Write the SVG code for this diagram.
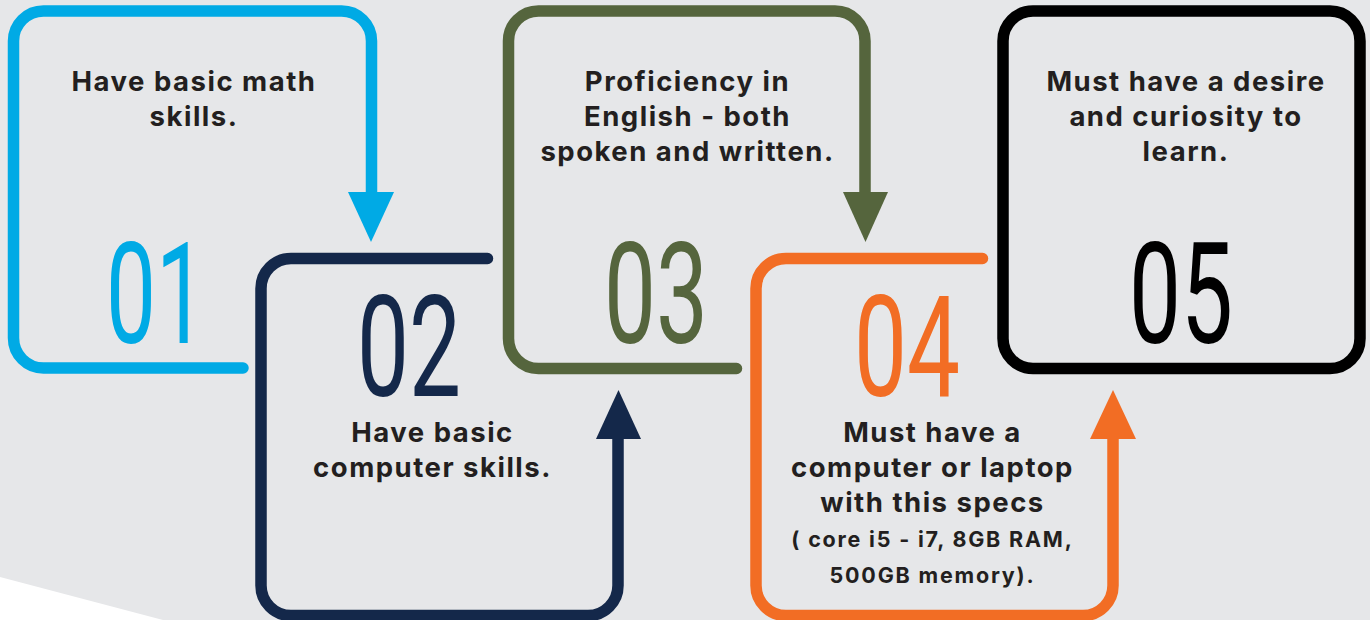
<svg xmlns="http://www.w3.org/2000/svg" width="1370" height="620" viewBox="0 0 1370 620">
<style>
.ln{fill:none;stroke-width:11.5;stroke-linecap:round;stroke-linejoin:round}
.t{font-family:Inter,"Open Sans","Liberation Sans",sans-serif;font-weight:700;font-size:27.5px;fill:#231F20;text-anchor:middle;letter-spacing:1.5px}
.s{font-size:21.5px;letter-spacing:1.8px}
.num{font-family:Roboto,"Liberation Sans",sans-serif;font-weight:400;font-size:141px;text-anchor:middle}
</style>
<rect width="1370" height="620" fill="#E6E7E9"/>
<polygon points="0,577 163,620 0,620" fill="#FFFFFF"/>
<g id="connectors">
<path class="ln" stroke="#00AAE5" d="M243,368 H43.5 A30,30 0 0 1 13.5,338 V41 A30,30 0 0 1 43.5,11 H341.5 A30,30 0 0 1 371.5,41 V194"/>
<polygon points="348,192 394,192 371,242" fill="#00AAE5"/>
<path class="ln" stroke="#14284A" d="M487.5,258.5 H291 A30,30 0 0 0 261,288.5 V585.5 A30,30 0 0 0 291,615.5 H588 A30,30 0 0 0 618,585.5 V437"/>
<polygon points="596,439 641,439 618.5,390" fill="#14284A"/>
<path class="ln" stroke="#55653D" d="M736.5,368.5 H538.5 A30,30 0 0 1 508.5,338.5 V41 A30,30 0 0 1 538.5,11 H835 A30,30 0 0 1 865,41 V194"/>
<polygon points="843,192 888,192 865.5,242" fill="#55653D"/>
<path class="ln" stroke="#F26D24" d="M982.5,258.5 H786 A30,30 0 0 0 756,288.5 V585.5 A30,30 0 0 0 786,615.5 H1083 A30,30 0 0 0 1113,585.5 V437"/>
<polygon points="1090,439 1136,439 1113,390" fill="#F26D24"/>
<rect class="ln" stroke="#000000" x="1003" y="11" width="357" height="357.5" rx="30"/>
</g>
<g id="node1">
<text class="t" x="194" y="91">Have basic math</text>
<text class="t" x="194" y="126">skills.</text>
<text class="num" x="156" y="343" fill="#00AAE5" textLength="100" lengthAdjust="spacingAndGlyphs">01</text>
</g>
<g id="node2">
<text class="num" x="409" y="396" fill="#14284A" textLength="104" lengthAdjust="spacingAndGlyphs">02</text>
<text class="t" x="432.5" y="442">Have basic</text>
<text class="t" x="432.5" y="477">computer skills.</text>
</g>
<g id="node3">
<text class="t" x="687.5" y="91">Proficiency in</text>
<text class="t" x="687.5" y="126">English - both</text>
<text class="t" x="687.5" y="161">spoken and written.</text>
<text class="num" x="656" y="343" fill="#55653D" textLength="104" lengthAdjust="spacingAndGlyphs">03</text>
</g>
<g id="node4">
<text class="num" x="907" y="396" fill="#F26D24" textLength="106" lengthAdjust="spacingAndGlyphs">04</text>
<text class="t" x="932.5" y="442">Must have a</text>
<text class="t" x="932.5" y="477">computer or laptop</text>
<text class="t" x="932.5" y="512">with this specs</text>
<text class="t s" x="932.5" y="547">( core i5 - i7, 8GB RAM,</text>
<text class="t s" x="932.5" y="583">500GB memory).</text>
</g>
<g id="node5">
<text class="t" x="1186" y="91">Must have a desire</text>
<text class="t" x="1186" y="126">and curiosity to</text>
<text class="t" x="1186" y="161">learn.</text>
<text class="num" x="1181" y="343" fill="#000000" textLength="104" lengthAdjust="spacingAndGlyphs">05</text>
</g>
</svg>
